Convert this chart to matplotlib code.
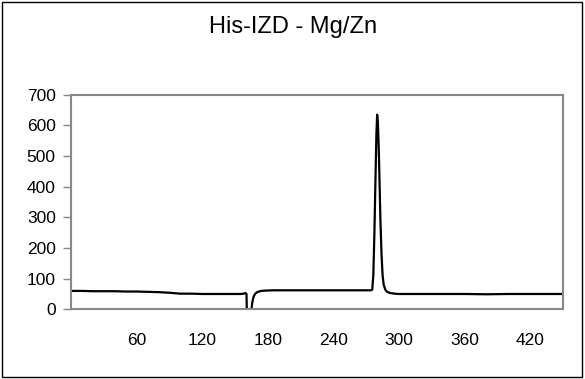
import matplotlib
matplotlib.use("Agg")
import matplotlib.pyplot as plt
from matplotlib.patches import Rectangle

plt.rcParams['font.family'] = ['Liberation Sans', 'DejaVu Sans']

title = "His-IZD - Mg/Zn"
x_vals = [0, 10, 20, 30, 40, 50, 60, 70, 80, 90, 100, 110, 120, 130, 140, 150, 155, 158, 159.5, 160.5,
          161, 164, 165, 165.7, 166.5, 167.5, 169, 171, 174, 178, 185, 200, 220, 240, 260, 270, 274,
          275.5, 276.5, 277.5, 278.5, 279.3, 280, 280.7, 281.5, 282.3, 283, 284, 285, 286, 287.5, 289,
          292, 296, 300, 320, 340, 360, 380, 400, 420, 440, 450]
y_vals = [60, 60, 59, 59, 59, 58, 58, 57, 56, 54, 51, 51, 50, 50, 50, 50, 50, 51, 53, 50,
          -40, -40, 0, 20, 35, 45, 53, 57, 60, 61, 62, 62, 62, 62, 62, 62, 62,
          64, 110, 250, 430, 570, 635, 610, 520, 400, 290, 180, 110, 80, 64, 57,
          53, 51, 50, 50, 50, 50, 49, 50, 50, 50, 50]
x_ticks = [60, 120, 180, 240, 300, 360, 420]
y_ticks = [0, 100, 200, 300, 400, 500, 600, 700]

fig = plt.figure(figsize=(5.85, 3.79), dpi=100)
fig.patches.append(Rectangle((0.003, 0.004), 0.992, 0.992, transform=fig.transFigure,
                             fill=False, edgecolor='black', linewidth=1.0))
ax = fig.add_axes([0.1214, 0.1839, 0.8410, 0.5661])
ax.plot(x_vals, y_vals, color='black', linewidth=1.6, solid_joinstyle='round')
ax.set_xlim(0, 450)
ax.set_ylim(0, 700)
ax.set_xticks(x_ticks)
ax.set_yticks(y_ticks)
ax.set_xticklabels([str(v) for v in x_ticks])
ax.set_yticklabels([str(v) for v in y_ticks])
for s in ax.spines.values():
    s.set_color('#888888')
    s.set_linewidth(1.5)
ax.tick_params(axis='y', length=5.5, width=1.0, color='#888888', pad=5.5, labelsize=12.5)
ax.tick_params(axis='x', length=0, pad=17, labelsize=12.5)
fig.text(0.501, 0.928, title, ha='center', va='center', fontsize=17)
fig.savefig('out.png', dpi=100)
